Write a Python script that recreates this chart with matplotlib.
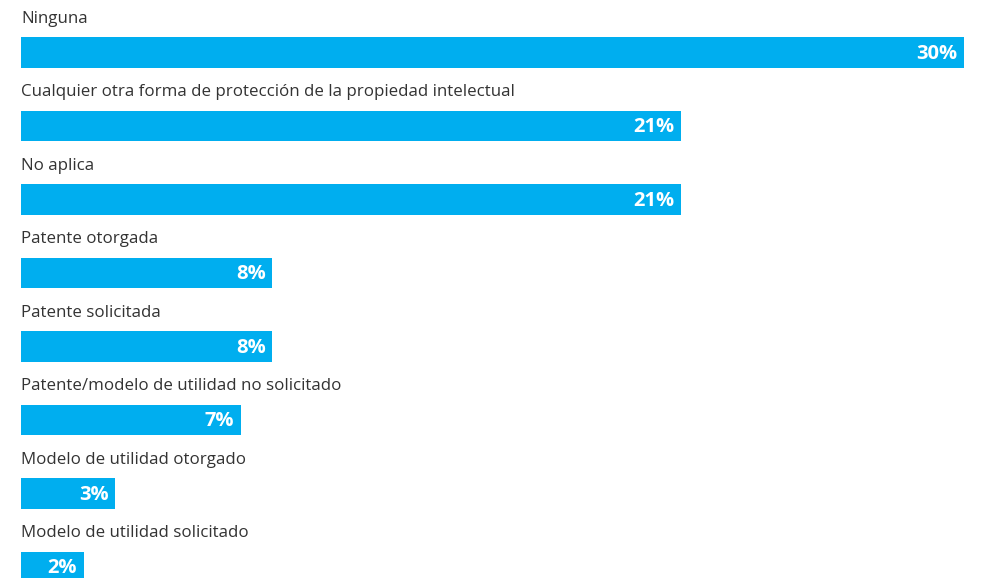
import matplotlib.pyplot as plt

# datos
categorias = ["Ninguna",
              "Cualquier otra forma de protección de la propiedad intelectual",
              "No aplica",
              "Patente otorgada",
              "Patente solicitada",
              "Patente/modelo de utilidad no solicitado",
              "Modelo de utilidad otorgado",
              "Modelo de utilidad solicitado"]
valores = [30, 21, 21, 8, 8, 7, 3, 2]
etiquetas = ["30%", "21%", "21%", "8%", "8%", "7%", "3%", "2%"]

azul = "#00AEEF"
plt.rcParams['font.family'] = ['Open Sans', 'DejaVu Sans']

fig = plt.figure(figsize=(9.82, 5.78), dpi=100)
ax = fig.add_axes([0, 0, 1, 1])

pos = list(range(len(valores)))
ax.barh(pos, valores, height=0.42, color=azul, left=0)

for i, (cat, v, et) in enumerate(zip(categorias, valores, etiquetas)):
    ax.text(0, i - 0.46, cat, ha='left', va='center', fontsize=12.2, color='#333333')
    ax.text(v - 0.22, i + 0.02, et, ha='right', va='center', fontsize=14.5,
            fontweight='bold', color='white')

ax.set_xlim(-21 / 31.43, (982 - 21) / 31.43)
ax.set_ylim((578 - 52.5) / 73.5, -52.5 / 73.5)
ax.axis('off')

fig.savefig('out.png', dpi=100)
